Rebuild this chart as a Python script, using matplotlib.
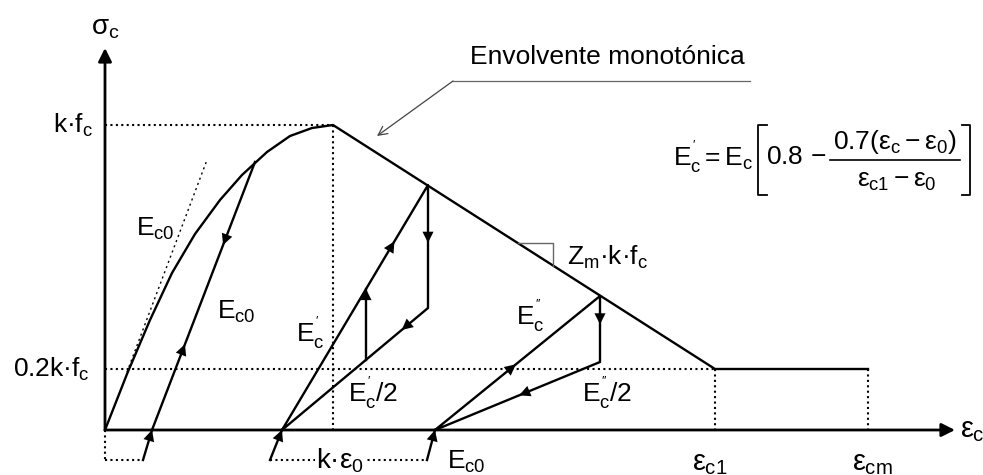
import numpy as np
import matplotlib.pyplot as plt

plt.rcParams['font.family'] = ['Liberation Sans', 'DejaVu Sans']
plt.rcParams['mathtext.fontset'] = 'custom'
plt.rcParams['mathtext.rm'] = 'Liberation Sans'
plt.rcParams['mathtext.it'] = 'Liberation Sans'
plt.rcParams['mathtext.sf'] = 'Liberation Sans'
plt.rcParams['mathtext.bf'] = 'Liberation Sans:bold'

# monotonic envelope (strain, stress), schematic units
env_eps = [0, 22, 45, 67, 90, 115, 137, 162, 185, 207, 228, 610, 763]
env_sig = [0, 56, 110, 157, 196, 230, 255, 278, 294, 302, 305, 61, 61]
peak_eps, peak_sig = 228, 305
eps_c1, eps_cm, sig_res = 610, 763, 61

# initial tangent E_c0
tan_eps = [22, 102]
tan_sig = [58, 270]

# unloading / reloading branches
unload1_eps = [150, 47]
unload1_sig = [268, 0]
cycle2_eps = [177, 323, 323, 177]
cycle2_sig = [0, 245, 122, 0]
inner2_eps = [261, 261]
inner2_sig = [70, 141]
cycle3_eps = [330, 495, 495, 330]
cycle3_sig = [0, 134, 68, 0]

# lead-in arrows from below the axis
lead_from = [38, 165, 322]
lead_to = [47, 177, 330]
lead_sig = -30

fig = plt.figure(figsize=(9.83, 4.75), dpi=100)
ax = fig.add_axes([0, 0, 1, 1])
ax.set_xlim(-105, 878)
ax.set_ylim(-45, 430)
ax.axis('off')

lw = 1.7
dot = dict(color='black', lw=1.5, ls=(0, (1.0, 1.6)))
fs = 19


def head(x0, y0, x1, y1, frac=1.0, ms=20):
    # filled arrow head on segment p0->p1 at given fraction
    d = np.array([x1 - x0, y1 - y0], float)
    d /= np.hypot(*d)
    tip = np.array([x0, y0]) + frac * np.array([x1 - x0, y1 - y0])
    ax.annotate('', xy=tip, xytext=tip - d * 2,
                arrowprops=dict(arrowstyle='-|>', color='black', lw=0,
                                mutation_scale=ms, shrinkA=0, shrinkB=0))


# axes
for tip in [(0, 382), (850, 0)]:
    ax.annotate('', xy=tip, xytext=(0, 0),
                arrowprops=dict(arrowstyle='-|>', color='black', lw=2,
                                mutation_scale=20, shrinkA=0, shrinkB=0))

# dotted guides
ax.plot([0, peak_eps], [peak_sig, peak_sig], **dot)
ax.plot([peak_eps, peak_eps], [peak_sig, 0], **dot)
ax.plot([0, eps_c1], [sig_res, sig_res], **dot)
ax.plot([eps_c1, eps_c1], [sig_res, 0], **dot)
ax.plot([eps_cm, eps_cm], [sig_res, 0], **dot)
ax.plot([0, 0], [0, lead_sig], **dot)
ax.plot([0, lead_from[0]], [lead_sig, lead_sig], **dot)
ax.plot([lead_from[1], lead_from[2]], [lead_sig, lead_sig], **dot)
ax.plot(tan_eps, tan_sig, color='black', lw=1.0, ls=(0, (1.5, 2.5)))

# envelope
ax.plot(env_eps, env_sig, color='black', lw=lw, solid_joinstyle='round')

# branches
ax.plot(unload1_eps, unload1_sig, color='black', lw=lw)
ax.plot(cycle2_eps, cycle2_sig, color='black', lw=lw)
ax.plot(inner2_eps, inner2_sig, color='black', lw=lw)
ax.plot(cycle3_eps, cycle3_sig, color='black', lw=lw)
for a, b in zip(lead_from, lead_to):
    ax.plot([a, b], [lead_sig, 0], color='black', lw=lw)
    head(a, lead_sig, b, 0)

head(unload1_eps[0], unload1_sig[0], unload1_eps[1], unload1_sig[1], 0.31)
head(unload1_eps[1], unload1_sig[1], unload1_eps[0], unload1_sig[0], 0.32)
head(cycle2_eps[0], cycle2_sig[0], cycle2_eps[1], cycle2_sig[1], 0.77)
head(cycle2_eps[1], cycle2_sig[1], cycle2_eps[2], cycle2_sig[2], 0.47)
head(cycle2_eps[2], cycle2_sig[2], cycle2_eps[3], cycle2_sig[3], 0.18)
head(inner2_eps[0], inner2_sig[0], inner2_eps[1], inner2_sig[1], 1.0)
head(cycle3_eps[0], cycle3_sig[0], cycle3_eps[1], cycle3_sig[1], 0.49)
head(cycle3_eps[1], cycle3_sig[1], cycle3_eps[2], cycle3_sig[2], 0.43)
head(cycle3_eps[2], cycle3_sig[2], cycle3_eps[3], cycle3_sig[3], 0.49)

# slope marker
ax.plot([413, 448, 448], [187, 187, 164], color='#666666', lw=1.0)

# annotation arrow to envelope
ax.plot([348, 645], [349, 349], color='#666666', lw=0.9)
ax.annotate('', xy=(272, 294), xytext=(348, 349),
            arrowprops=dict(arrowstyle='->', color='#444444', lw=0.9,
                            mutation_scale=16, shrinkA=0, shrinkB=0))
ax.text(365, 373, 'Envolvente monotónica', fontsize=fs, va='center', ha='left')

# labels
ax.text(0, 402, r'$\sigma_c$', fontsize=fs + 1, ha='center', va='center')
ax.text(-12, 305, r'$k·f_c$', fontsize=fs, ha='right', va='center')
ax.text(-15, 61, r'$0.2k·f_c$', fontsize=fs, ha='right', va='center')
ax.text(855, 0, r'$\varepsilon_c$', fontsize=fs + 2, ha='left', va='center')
ax.text(605, -40, r'$\varepsilon_{c1}$', fontsize=fs + 2, ha='center', va='baseline')
ax.text(767, -40, r'$\varepsilon_{cm}$', fontsize=fs + 2, ha='center', va='baseline')
ax.text(235, -31, r'$k·\varepsilon_0$', fontsize=fs + 1, ha='center', va='center',
        bbox=dict(fc='white', ec='none', pad=1))
ax.text(342, -39, r'$E_{c0}$', fontsize=fs, ha='left', va='baseline')
ax.text(50, 201, r'$E_{c0}$', fontsize=fs, ha='center', va='center')
ax.text(131, 118, r'$E_{c0}$', fontsize=fs, ha='center', va='center')
ax.text(205, 97, r"$E_c^{'}$", fontsize=fs, ha='center', va='center')
ax.text(243, 37, r"$E_c^{'}/2$", fontsize=fs, ha='left', va='center')
ax.text(425, 114, r"$E_c^{''}$", fontsize=fs, ha='center', va='center')
ax.text(477, 37, r"$E_c^{''}/2$", fontsize=fs, ha='left', va='center')
ax.text(462, 173, r'$Z_m·k·f_c$', fontsize=fs, ha='left', va='center')

# formula for E'_c, laid out piece by piece
ax.text(568, 273, r"$E_c^{'} = E_c$", fontsize=fs, ha='left', va='center')
ax.plot([662, 653, 653, 662], [305, 305, 235, 235], color='black', lw=1.3)
ax.text(661, 273, r'$0.8\,-$', fontsize=fs, ha='left', va='center')
ax.plot([725, 855], [270, 270], color='black', lw=1.2)
ax.text(790, 288, r'$0.7(\varepsilon_c - \varepsilon_0)$', fontsize=fs,
        ha='center', va='center')
ax.text(792, 249, r'$\varepsilon_{c1} - \varepsilon_0$', fontsize=fs,
        ha='center', va='center')
ax.plot([857, 865, 865, 857], [305, 305, 235, 235], color='black', lw=1.3)

fig.savefig('out.png', dpi=100)
